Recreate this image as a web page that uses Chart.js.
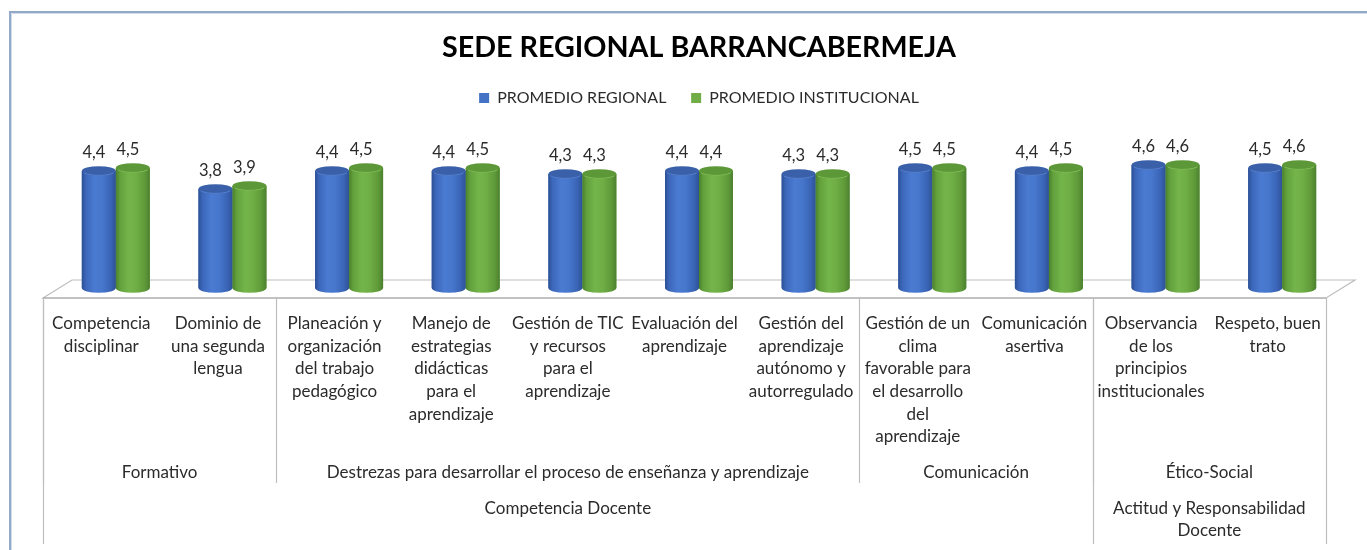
<!DOCTYPE html>
<html>
<head>
<meta charset="utf-8">
<script src="https://cdn.jsdelivr.net/npm/chart.js@4.4.1/dist/chart.umd.min.js"></script>
<style>
  html, body { margin: 0; padding: 0; background: #ffffff; }
  #wrap { position: relative; width: 1367px; height: 550px; }
  canvas { display: block; }
</style>
</head>
<body>
<div id="wrap"><canvas id="c" width="1367" height="550"></canvas></div>
<script>
// ---- DATA ----
const chartTitle = 'SEDE REGIONAL BARRANCABERMEJA';
const seriesNames = ['PROMEDIO REGIONAL', 'PROMEDIO INSTITUCIONAL'];
const categories = [
  ['Competencia', 'disciplinar'],
  ['Dominio de', 'una segunda', 'lengua'],
  ['Planeación y', 'organización', 'del trabajo', 'pedagógico'],
  ['Manejo de', 'estrategias', 'didácticas', 'para el', 'aprendizaje'],
  ['Gestión de TIC', 'y recursos', 'para el', 'aprendizaje'],
  ['Evaluación del', 'aprendizaje'],
  ['Gestión del', 'aprendizaje', 'autónomo y', 'autorregulado'],
  ['Gestión de un', 'clima', 'favorable para', 'el desarrollo', 'del', 'aprendizaje'],
  ['Comunicación', 'asertiva'],
  ['Observancia', 'de los', 'principios', 'institucionales'],
  ['Respeto, buen', 'trato']
];
const promedioRegional      = [4.4, 3.8, 4.4, 4.4, 4.3, 4.4, 4.3, 4.5, 4.4, 4.6, 4.5];
const promedioInstitucional = [4.5, 3.9, 4.5, 4.5, 4.3, 4.4, 4.3, 4.5, 4.5, 4.6, 4.6];
// second level groups: [label lines, first index, last index]
const subGroups = [
  [['Formativo'], 0, 1],
  [['Destrezas para desarrollar el proceso de enseñanza y aprendizaje'], 2, 6],
  [['Comunicación'], 7, 8],
  [['Ético-Social'], 9, 10]
];
// third level groups
const mainGroups = [
  [['Competencia Docente'], 0, 8],
  [['Actitud y Responsabilidad', 'Docente'], 9, 10]
];

// ---- STYLE ----
const FONT = 'Lato, "Open Sans", sans-serif';
const TEXT = '#2b2b2b';
const DEPTH = 14.5;   // half depth of 3D floor (x shift)
const palettes = [
  { base: '#4472c4', stops: ['#2c4f93', '#3c67ba', '#4a7bd2', '#4677cc', '#3a64b6', '#2d5296'], top: '#3a60a9', rim: '#5b86d6' },
  { base: '#70ad47', stops: ['#4a7f2c', '#62a03c', '#74b54a', '#6fae45', '#5f9a39', '#4c8030'], top: '#5c9738', rim: '#86c45c' }
];

function fmt(v) { return v.toFixed(1).replace('.', ','); }

const frame3d = {
  id: 'frame3d',
  beforeDraw(chart) {
    const c = chart.ctx;
    c.save();
    c.strokeStyle = '#92a9c9';
    c.lineWidth = 2;
    c.beginPath();
    c.moveTo(10, 550); c.lineTo(10, 12); c.lineTo(1367, 12);
    c.stroke();
    c.strokeStyle = '#d3dbe6';
    c.lineWidth = 1;
    c.beginPath();
    c.moveTo(11.5, 550); c.lineTo(11.5, 13.5); c.lineTo(1367, 13.5);
    c.stroke();
    c.restore();
  },
  beforeDatasetsDraw(chart) {
    const c = chart.ctx, a = chart.chartArea;
    const L = a.left, R = a.right, B = a.bottom;
    c.save();
    c.fillStyle = '#ffffff';
    c.strokeStyle = '#bdbdbd';
    c.lineWidth = 1.2;
    c.beginPath();
    c.moveTo(L - DEPTH, B + 10);
    c.lineTo(L + DEPTH, B - 8);
    c.lineTo(R + DEPTH, B - 8);
    c.lineTo(R - DEPTH, B + 10);
    c.closePath();
    c.fill();
    c.stroke();
    c.strokeStyle = '#a6a6a6';
    c.beginPath();
    c.moveTo(L - DEPTH, B + 10);
    c.lineTo(R - DEPTH, B + 10);
    c.stroke();
    c.restore();
  },
  afterDatasetsDraw(chart) {
    const c = chart.ctx;
    c.save();
    chart.data.datasets.forEach((ds, di) => {
      const meta = chart.getDatasetMeta(di);
      const p = palettes[di];
      meta.data.forEach((el, i) => {
        const cx = el.x, w = el.width, t = el.y, b = el.base;
        const rx = w / 2, ry = 4.8;
        const g = c.createLinearGradient(cx - rx, 0, cx + rx, 0);
        const pos = [0, 0.12, 0.38, 0.6, 0.85, 1];
        pos.forEach((o, k) => g.addColorStop(o, p.stops[k]));
        c.fillStyle = g;
        c.beginPath();
        c.moveTo(cx - rx, t);
        c.lineTo(cx - rx, b);
        c.ellipse(cx, b, rx, ry, 0, Math.PI, 0, true);
        c.lineTo(cx + rx, t);
        c.closePath();
        c.fill();
        // top cap
        c.fillStyle = p.top;
        c.beginPath();
        c.ellipse(cx, t, rx, ry, 0, 0, Math.PI * 2);
        c.fill();
        c.strokeStyle = p.rim;
        c.lineWidth = 0.8;
        c.beginPath();
        c.ellipse(cx, t, rx - 0.5, ry - 0.4, 0, 0.15 * Math.PI, 0.85 * Math.PI);
        c.stroke();
        // value label
        c.fillStyle = TEXT;
        c.font = '16.5px ' + FONT;
        c.textAlign = 'center';
        c.textBaseline = 'middle';
        c.fillText(fmt(ds.data[i]), cx - 5, t - 18.5);
      });
    });
    c.restore();
  },
  afterDraw(chart) {
    const c = chart.ctx, xs = chart.scales.x, a = chart.chartArea;
    const B = a.bottom;
    const front = B + 10;
    const edge = j => xs.getPixelForValue(j - 0.5) - DEPTH;
    const mid = j => xs.getPixelForValue(j) - DEPTH;
    c.save();
    c.strokeStyle = '#bdbdbd';
    c.lineWidth = 1.2;
    subGroups.forEach(g => {
      const x = Math.round(edge(g[1])) + 0.5;
      c.beginPath(); c.moveTo(x, front); c.lineTo(x, 483); c.stroke();
    });
    const longEdges = [0];
    mainGroups.forEach(g => longEdges.push(g[2] + 1));
    longEdges.forEach(j => {
      const x = Math.round(edge(j)) + 0.5;
      c.beginPath(); c.moveTo(x, front); c.lineTo(x, 544); c.stroke();
    });
    c.fillStyle = TEXT;
    c.font = '17px ' + FONT;
    c.textAlign = 'center';
    c.textBaseline = 'middle';
    const lh = 22.7;
    categories.forEach((lines, i) => {
      lines.forEach((s, k) => c.fillText(s, mid(i), 323.5 + k * lh));
    });
    subGroups.forEach(g => {
      const x = (edge(g[1]) + edge(g[2] + 1)) / 2;
      g[0].forEach((s, k) => c.fillText(s, x, 472.5 + k * lh));
    });
    mainGroups.forEach(g => {
      const x = (edge(g[1]) + edge(g[2] + 1)) / 2;
      g[0].forEach((s, k) => c.fillText(s, x, 508.5 + k * 22));
    });
    c.restore();
  }
};

new Chart(document.getElementById('c'), {
  type: 'bar',
  data: {
    labels: categories,
    datasets: [
      { label: seriesNames[0], data: promedioRegional, backgroundColor: palettes[0].base, borderWidth: 0 },
      { label: seriesNames[1], data: promedioInstitucional, backgroundColor: palettes[1].base, borderWidth: 0 }
    ]
  },
  options: {
    responsive: false,
    animation: false,
    devicePixelRatio: 1,
    categoryPercentage: 0.583,
    barPercentage: 1,
    base: 0.5,
    layout: { padding: { left: 57.5, right: 26.5, top: 0, bottom: 262 } },
    scales: {
      x: { display: false },
      y: { display: false, min: 0.5, max: 6.233 }
    },
    plugins: {
      tooltip: { enabled: false },
      title: {
        display: true,
        text: chartTitle,
        color: '#000000',
        font: { family: FONT, size: 28.7, weight: 'bold', lineHeight: 1.2 },
        padding: { top: 30.78, bottom: 0 }
      },
      legend: {
        display: true,
        position: 'top',
        labels: {
          boxWidth: 10,
          boxHeight: 10,
          padding: 24.78,
          color: TEXT,
          font: { family: FONT, size: 16 }
        }
      }
    }
  },
  plugins: [frame3d]
});
</script>
</body>
</html>
